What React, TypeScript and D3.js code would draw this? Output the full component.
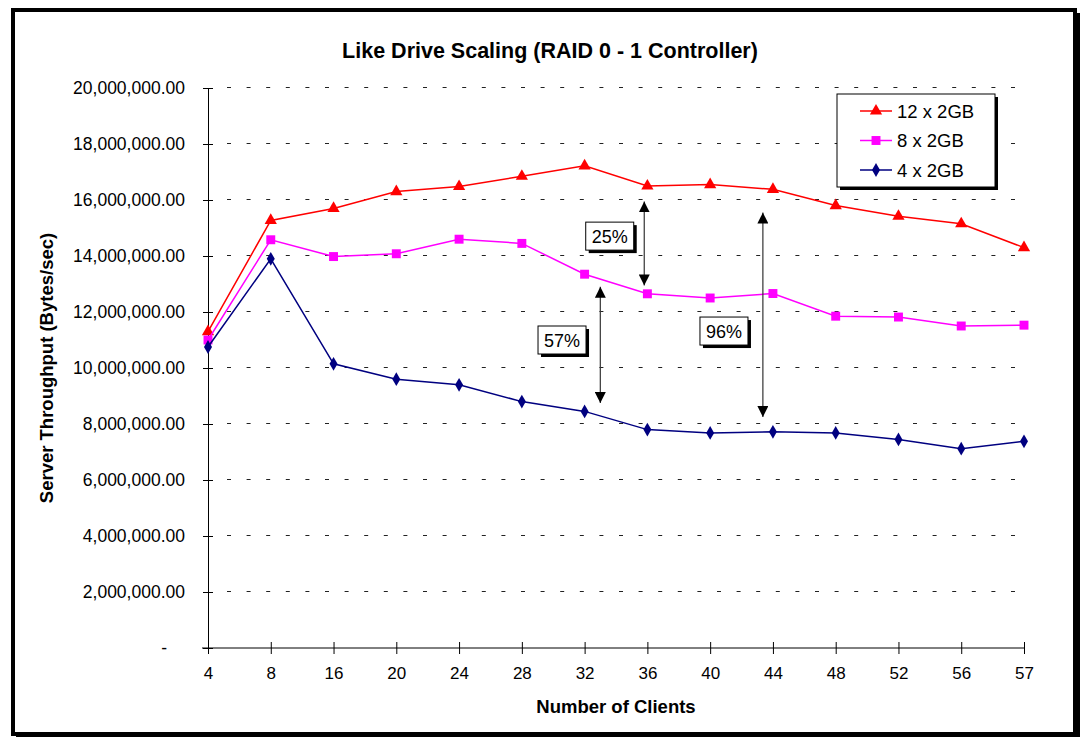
import * as d3 from 'd3';
import React, { useEffect, useRef } from 'react';

const clients = ['4', '8', '16', '20', '24', '28', '32', '36', '40', '44', '48', '52', '56', '57'];
const drives12 = [11300000, 15270000, 15700000, 16300000, 16480000, 16850000, 17220000, 16500000, 16550000, 16380000, 15800000, 15420000, 15150000, 14300000];
const drives8 = [11000000, 14580000, 13980000, 14080000, 14600000, 14450000, 13350000, 12650000, 12500000, 12660000, 11850000, 11820000, 11500000, 11530000];
const drives4 = [10750000, 13900000, 10150000, 9600000, 9400000, 8800000, 8450000, 7800000, 7680000, 7720000, 7680000, 7450000, 7120000, 7380000];
const yTicks = [0, 2000000, 4000000, 6000000, 8000000, 10000000, 12000000, 14000000, 16000000, 18000000, 20000000];

// arrows: category index position, value from, value to
const arrows = [
  { pos: 6.95, from: 15950000, to: 12950000 },
  { pos: 6.25, from: 12900000, to: 8750000 },
  { pos: 8.84, from: 15550000, to: 8250000 },
];
const callouts = [
  { label: '25%', pos: 6.4, value: 14710000 },
  { label: '57%', pos: 5.64, value: 11000000 },
  { label: '96%', pos: 8.22, value: 11320000 },
];

export default function App() {
  const ref = useRef<SVGSVGElement>(null);

  useEffect(() => {
    if (!ref.current) return;
    const width = 1083;
    const height = 737;
    const left = 208;
    const right = 1024;
    const top = 88;
    const bottom = 648;

    const svg = d3.select(ref.current);
    svg.selectAll('*').remove();
    svg.attr('width', width).attr('height', height);

    svg.append('rect').attr('x', 0).attr('y', 0).attr('width', width).attr('height', height).attr('fill', '#fff');
    // frame with shadow
    svg.append('rect').attr('x', 16).attr('y', 13).attr('width', 1064).attr('height', 724).attr('fill', '#000');
    svg.append('rect').attr('x', 13).attr('y', 10).attr('width', 1062).attr('height', 724)
      .attr('fill', '#fff').attr('stroke', '#000').attr('stroke-width', 4);

    const x = d3.scaleLinear().domain([0, clients.length - 1]).range([left, right]);
    const y = d3.scaleLinear().domain([0, 20000000]).range([bottom, top]);

    const font = '"Liberation Sans", Arial, sans-serif';

    // grid
    svg.append('g').selectAll('line').data(yTicks.filter(d => d > 0)).enter().append('line')
      .attr('x1', left + 19).attr('x2', right).attr('y1', d => y(d) - 0.5).attr('y2', d => y(d) - 0.5)
      .attr('stroke', '#222').attr('stroke-width', 1).attr('stroke-dasharray', '4,15.6');

    // y axis
    const yAxis = svg.append('g').attr('transform', `translate(${left},0)`)
      .call(d3.axisLeft(y).tickValues(yTicks).tickSize(5).tickSizeOuter(0)
        .tickFormat(d => (+d === 0 ? '-' : d3.format(',.2f')(+d))));
    yAxis.select('.domain').attr('stroke', '#000');
    yAxis.selectAll('.tick line').attr('x2', 5).attr('x1', -5).attr('stroke', '#000');
    yAxis.selectAll('text').attr('x', -23).attr('font-family', font).attr('font-size', 17.5).attr('fill', '#000');
    yAxis.selectAll('.tick').filter(d => +d === 0).select('text').attr('x', -41);

    // x axis
    const xAxis = svg.append('g').attr('transform', `translate(0,${bottom})`)
      .call(d3.axisBottom(x).tickValues(d3.range(clients.length)).tickSize(6).tickSizeOuter(0)
        .tickFormat(i => clients[+i]));
    xAxis.select('.domain').attr('d', `M${left - 6},0H${right}`).attr('stroke', '#000');
    xAxis.selectAll('.tick line').attr('y1', -6).attr('y2', 6).attr('stroke', '#000');
    xAxis.selectAll('text').attr('y', 19).attr('font-family', font).attr('font-size', 17).attr('fill', '#000');

    const series = [
      { name: '12 x 2GB', values: drives12, color: '#ff0000', symbol: d3.symbolTriangle, size: 65 },
      { name: '8 x 2GB', values: drives8, color: '#ff00ff', symbol: d3.symbolSquare, size: 80 },
      { name: '4 x 2GB', values: drives4, color: '#000080', symbol: d3.symbolDiamond, size: 55 },
    ];

    const line = d3.line<number>().x((_, i) => x(i)).y(d => y(d));

    series.forEach(s => {
      svg.append('path').datum(s.values).attr('d', line).attr('fill', 'none')
        .attr('stroke', s.color).attr('stroke-width', 1.5);
      svg.append('g').selectAll('path').data(s.values).enter().append('path')
        .attr('d', d3.symbol().type(s.symbol).size(s.size)())
        .attr('transform', (d, i) => `translate(${x(i)},${y(d)})`)
        .attr('fill', s.color);
    });

    // arrows
    const defs = svg.append('defs');
    defs.append('marker').attr('id', 'ah').attr('viewBox', '0 0 10 10').attr('refX', 10).attr('refY', 5)
      .attr('markerWidth', 11).attr('markerHeight', 11).attr('markerUnits', 'userSpaceOnUse').attr('orient', 'auto-start-reverse')
      .append('path').attr('d', 'M0,0L10,5L0,10Z').attr('fill', '#000');
    svg.append('g').selectAll('line').data(arrows).enter().append('line')
      .attr('x1', d => x(d.pos)).attr('x2', d => x(d.pos))
      .attr('y1', d => y(d.from)).attr('y2', d => y(d.to))
      .attr('stroke', '#333').attr('stroke-width', 1.2)
      .attr('marker-start', 'url(#ah)').attr('marker-end', 'url(#ah)');

    // callouts
    const cg = svg.append('g').selectAll('g').data(callouts).enter().append('g')
      .attr('transform', d => `translate(${x(d.pos)},${y(d.value)})`);
    cg.append('rect').attr('x', -21).attr('y', -11).attr('width', 48).attr('height', 28).attr('fill', '#000');
    cg.append('rect').attr('x', -24).attr('y', -14).attr('width', 48).attr('height', 28)
      .attr('fill', '#fff').attr('stroke', '#000').attr('stroke-width', 1);
    cg.append('text').attr('text-anchor', 'middle').attr('y', 6.5).attr('font-family', font).attr('font-size', 18)
      .text(d => d.label);

    // legend
    const lg = svg.append('g').attr('transform', 'translate(837,94)');
    lg.append('rect').attr('x', 3).attr('y', 3).attr('width', 158).attr('height', 93).attr('fill', '#000');
    lg.append('rect').attr('x', 0).attr('y', 0).attr('width', 158).attr('height', 93)
      .attr('fill', '#fff').attr('stroke', '#000').attr('stroke-width', 1);
    const items = lg.selectAll('g.item').data(series).enter().append('g').attr('class', 'item')
      .attr('transform', (_, i) => `translate(0,${17 + i * 29.5})`);
    items.append('line').attr('x1', 23).attr('x2', 55).attr('stroke', d => d.color).attr('stroke-width', 1.5);
    items.append('path').attr('d', d => d3.symbol().type(d.symbol).size(d.size)())
      .attr('transform', 'translate(39,0)').attr('fill', d => d.color);
    items.append('text').attr('x', 60).attr('y', 6.5).attr('font-family', font).attr('font-size', 18.5)
      .text(d => d.name);

    // titles
    svg.append('text').attr('x', 550).attr('y', 58).attr('text-anchor', 'middle')
      .attr('font-family', font).attr('font-size', 21.5).attr('font-weight', 'bold')
      .text('Like Drive Scaling (RAID 0 - 1 Controller)');
    svg.append('text').attr('x', 616).attr('y', 713).attr('text-anchor', 'middle')
      .attr('font-family', font).attr('font-size', 18.5).attr('font-weight', 'bold')
      .text('Number of Clients');
    svg.append('text').attr('transform', 'translate(53,368) rotate(-90)').attr('text-anchor', 'middle')
      .attr('font-family', font).attr('font-size', 18.5).attr('font-weight', 'bold')
      .text('Server Throughput (Bytes/sec)');
  }, []);

  return <svg ref={ref} style={{ position: 'absolute', left: 0, top: 0 }} />;
}
